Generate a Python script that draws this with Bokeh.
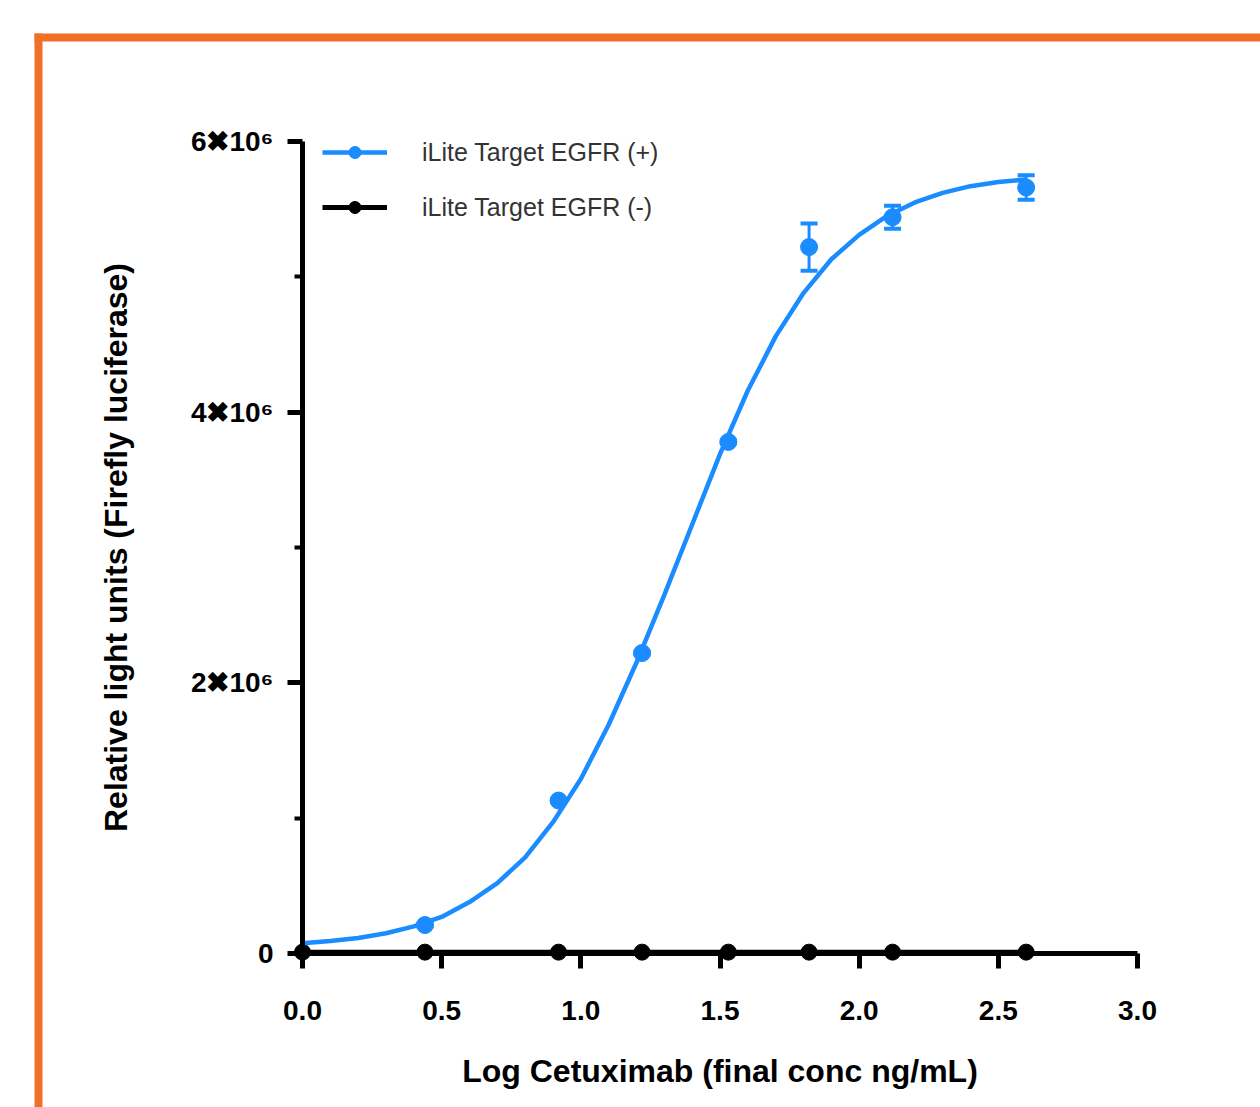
from bokeh.plotting import figure
from bokeh.models import (Range1d, FixedTicker, Legend, LegendItem, Whisker,
                          ColumnDataSource, BoxAnnotation, TeeHead)
from bokeh.embed import file_html
from bokeh.resources import INLINE

# ---------------- data ----------------
log_conc_pos = [0.44, 0.92, 1.22, 1.53, 1.82, 2.12, 2.60]
rlu_pos = [0.21e6, 1.13e6, 2.22e6, 3.78e6, 5.22e6, 5.44e6, 5.66e6]
rlu_pos_err = [0.01e6, 0.01e6, 0.01e6, 0.01e6, 0.175e6, 0.085e6, 0.09e6]

log_conc_neg = [0.0, 0.44, 0.92, 1.22, 1.53, 1.82, 2.12, 2.60]
rlu_neg = [0.01e6, 0.01e6, 0.01e6, 0.01e6, 0.01e6, 0.01e6, 0.01e6, 0.01e6]

fit_x = [0.0, 0.1, 0.2, 0.3, 0.4, 0.5, 0.6, 0.7, 0.8, 0.9, 1.0, 1.1, 1.2,
         1.3, 1.4, 1.5, 1.6, 1.7, 1.8, 1.9, 2.0, 2.1, 2.2, 2.3, 2.4, 2.5, 2.6]
fit_y = [0.075e6, 0.092e6, 0.115e6, 0.15e6, 0.20e6, 0.27e6, 0.38e6, 0.52e6,
         0.71e6, 0.97e6, 1.29e6, 1.69e6, 2.15e6, 2.65e6, 3.17e6, 3.69e6,
         4.16e6, 4.56e6, 4.88e6, 5.13e6, 5.31e6, 5.45e6, 5.55e6, 5.62e6,
         5.67e6, 5.70e6, 5.72e6]

x_ticks = [0.0, 0.5, 1.0, 1.5, 2.0, 2.5, 3.0]
x_tick_labels = ["0.0", "0.5", "1.0", "1.5", "2.0", "2.5", "3.0"]
y_ticks = [0, 2e6, 4e6, 6e6]
y_minor_ticks = [1e6, 3e6, 5e6]
y_tick_labels = ["0", "2\u271610\u2076", "4\u271610\u2076", "6\u271610\u2076"]

series_labels = ["iLite Target EGFR (+)", "iLite Target EGFR (-)"]
x_title = "Log Cetuximab (final conc ng/mL)"
y_title = "Relative light units (Firefly luciferase)"

# ---------------- layout constants ----------------
W, H = 1260, 1107
X0_PX, X3_PX = 302.0, 1137.0      # pixel of x=0 and x=3
Y0_PX, Y6_PX = 953.0, 141.0       # pixel of y=0 and y=6e6
sx = (X3_PX - X0_PX) / 3.0
sy = (Y0_PX - Y6_PX) / 6e6
x_start = -X0_PX / sx
x_end = x_start + W / sx
y_start = -(H - Y0_PX) / sy
y_end = y_start + H / sy

BLUE = "#1a8cff"
ORANGE = "#F07025"
FONT = "Liberation Sans"

p = figure(width=W, height=H, output_backend="svg", toolbar_location=None,
           title=None, min_border=0,
           x_range=Range1d(x_start, x_end), y_range=Range1d(y_start, y_end))
p.xgrid.visible = False
p.ygrid.visible = False
p.outline_line_color = None
p.background_fill_color = "white"
p.border_fill_color = "white"

# orange frame (screen units measured from the bottom-left)
p.add_layout(BoxAnnotation(left=34, right=42, top=H - 33, bottom=0,
                           left_units="screen", right_units="screen",
                           top_units="screen", bottom_units="screen",
                           fill_color=ORANGE, fill_alpha=1, line_color=None))
p.add_layout(BoxAnnotation(left=34, right=W, top=H - 33, bottom=H - 41,
                           left_units="screen", right_units="screen",
                           top_units="screen", bottom_units="screen",
                           fill_color=ORANGE, fill_alpha=1, line_color=None))

# axes
xa = p.xaxis[0]
xa.fixed_location = 0
xa.bounds = (0, 3)
xa.ticker = FixedTicker(ticks=x_ticks, minor_ticks=[])
xa.major_label_overrides = {t: l for t, l in zip(x_ticks, x_tick_labels)}
xa.axis_line_width = 5
xa.axis_line_color = "black"
xa.major_tick_line_width = 5
xa.major_tick_out = 15
xa.major_tick_in = 0
xa.minor_tick_line_color = None
xa.major_label_text_font = FONT
xa.major_label_text_font_style = "bold"
xa.major_label_text_font_size = "28px"
xa.major_label_text_color = "black"
xa.major_label_standoff = 32
xa.axis_label = x_title
xa.axis_label_text_font = FONT
xa.axis_label_text_font_style = "bold"
xa.axis_label_text_font_size = "32px"
xa.axis_label_text_color = "black"
xa.axis_label_standoff = 30

ya = p.yaxis[0]
ya.fixed_location = 0
ya.bounds = (0, 6e6)
ya.ticker = FixedTicker(ticks=y_ticks, minor_ticks=y_minor_ticks)
ya.major_label_overrides = {t: l for t, l in zip(y_ticks, y_tick_labels)}
ya.axis_line_width = 5
ya.axis_line_color = "black"
ya.major_tick_line_width = 5
ya.major_tick_out = 15
ya.major_tick_in = 0
ya.minor_tick_line_width = 4
ya.minor_tick_out = 8
ya.minor_tick_in = 0
ya.major_label_text_font = FONT
ya.major_label_text_font_style = "bold"
ya.major_label_text_font_size = "28px"
ya.major_label_text_color = "black"
ya.major_label_standoff = 14
ya.axis_label = y_title
ya.axis_label_text_font = FONT
ya.axis_label_text_font_style = "bold"
ya.axis_label_text_font_size = "32px"
ya.axis_label_text_color = "black"
ya.axis_label_standoff = 54

# negative series (black)
neg_line = p.line(log_conc_neg, rlu_neg, line_color="black", line_width=5)
neg_pts = p.scatter(log_conc_neg, rlu_neg, size=16, marker="circle",
                    fill_color="black", line_color="black")

# positive series (blue)
pos_line = p.line(fit_x, fit_y, line_color=BLUE, line_width=4.5)
err_src = ColumnDataSource(data=dict(
    x=log_conc_pos,
    upper=[v + e for v, e in zip(rlu_pos, rlu_pos_err)],
    lower=[v - e for v, e in zip(rlu_pos, rlu_pos_err)]))
p.add_layout(Whisker(base="x", upper="upper", lower="lower", source=err_src,
                     line_color=BLUE, line_width=3,
                     upper_head=TeeHead(size=17, line_color=BLUE, line_width=4),
                     lower_head=TeeHead(size=17, line_color=BLUE, line_width=4)))
pos_pts = p.scatter(log_conc_pos, rlu_pos, size=17, marker="circle",
                    fill_color=BLUE, line_color=BLUE)

legend = Legend(items=[LegendItem(label=series_labels[0], renderers=[pos_line, pos_pts]),
                       LegendItem(label=series_labels[1], renderers=[neg_line, neg_pts])],
                location=(322, H - 222), margin=0, padding=0,
                glyph_width=65, glyph_height=30, label_height=30, spacing=25,
                label_standoff=35, label_text_font=FONT,
                label_text_font_size="25px", label_text_color="#333333",
                border_line_color=None, background_fill_alpha=0)
p.add_layout(legend)

open("out.html", "w").write(file_html(p, INLINE))
